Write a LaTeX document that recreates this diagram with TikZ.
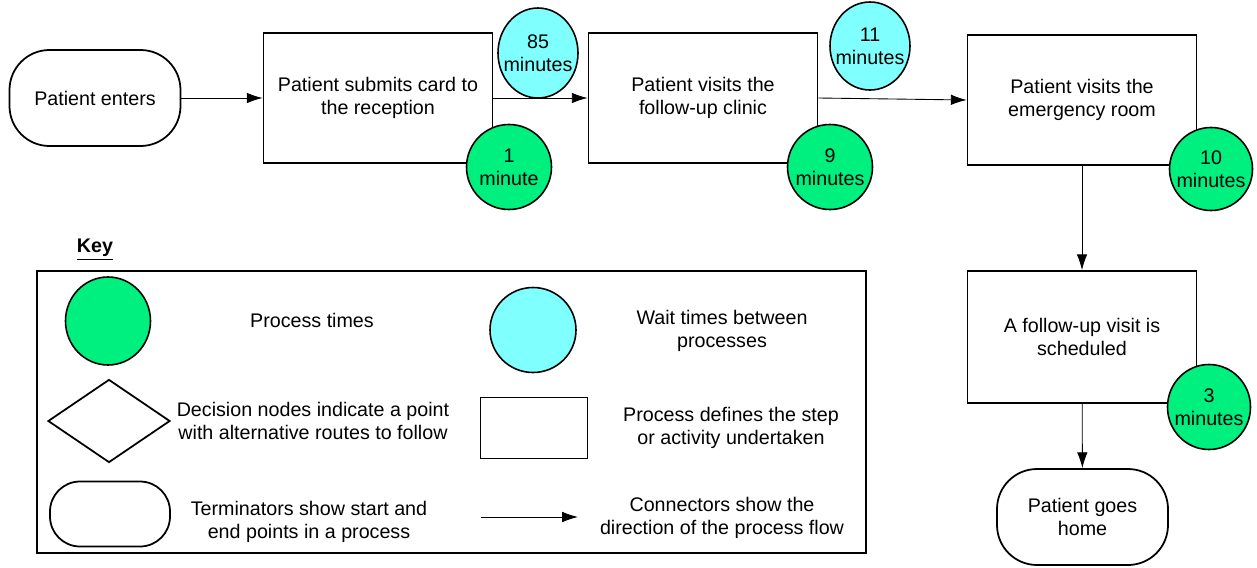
\documentclass[tikz,border=0pt]{standalone}
\usepackage{fontspec}
\setmainfont{Liberation Sans}
\usepackage{tikz}
\usetikzlibrary{positioning,calc,arrows.meta,shapes.geometric}
\definecolor{procgreen}{RGB}{0,240,128}
\definecolor{waitcyan}{RGB}{128,255,255}

\begin{document}
\begin{tikzpicture}[font=\fontsize{11.2}{13.2}\selectfont,
    terminator/.style={draw,line width=1pt,rounded corners=0.8cm,minimum width=3.42cm,minimum height=1.92cm,align=center},
    process/.style={draw,line width=1pt,minimum width=4.58cm,minimum height=2.6cm,align=center},
    proctime/.style={draw,ellipse,line width=0.9pt,fill=procgreen,minimum width=1.7cm,minimum height=1.7cm,inner sep=-6pt,align=center},
    waittime/.style={draw,ellipse,line width=0.9pt,fill=waitcyan,minimum width=1.6cm,minimum height=1.8cm,inner sep=-6pt,align=center},
    flow/.style={-{Latex[length=9pt,width=6pt]},line width=0.5pt}]
        \useasboundingbox (0,0) rectangle (25.14,-11.34);
        % main flow
        \node[terminator] (enter) at (1.9,-1.96) {Patient enters};
        \node[process] (submit) at (7.56,-1.96) {Patient submits card to\\the reception};
        \node[process] (clinic) at (14.06,-1.96) {Patient visits the\\follow-up clinic};
        \node[process] (emergency) at (21.64,-2.0) {Patient visits the\\emergency room};
        \node[process,minimum height=2.64cm] (schedule) at (21.64,-6.74) {A follow-up visit is\\scheduled};
        \node[terminator] (home) at (21.65,-10.34) {Patient goes\\home};
        \draw[flow] (enter) -- (submit);
        \draw[flow] (submit) -- (clinic);
        \draw[flow] (clinic.east) -- (emergency.west);
        \draw[flow] (emergency) -- (schedule);
        \draw[flow] (schedule) -- (home);
        % times
        \node[waittime] (wait1) at (10.76,-1.06) {85\\minutes};
        \node[waittime,minimum height=1.76cm] (wait2) at (17.4,-0.92) {11\\minutes};
        \node[proctime] (time1) at (10.18,-3.34) {1\\minute};
        \node[proctime] (time2) at (16.6,-3.34) {9\\minutes};
        \node[proctime,minimum width=1.66cm,minimum height=1.66cm] (time3) at (24.22,-3.38) {10\\minutes};
        \node[proctime,minimum width=1.66cm] (time4) at (24.18,-8.14) {3\\minutes};
        % key
        \node[font=\fontsize{11.2}{13.2}\selectfont\bfseries] (keytitle) at (1.9,-5.0) {\underline{Key}};
        \node[draw,line width=1pt,minimum width=16.58cm,minimum height=5.64cm] (keybox) at (9.03,-8.24) {};
        \node[proctime,minimum height=1.76cm] (keyproc) at (2.16,-6.42) {};
        \node[waittime,minimum width=1.72cm,minimum height=1.7cm] (keywait) at (10.66,-6.6) {};
        \node[draw,diamond,line width=1pt,minimum width=2.44cm,minimum height=1.66cm,inner sep=0pt] (keydecision) at (2.18,-8.42) {};
        \node[process,minimum width=2.14cm,minimum height=1.22cm] (keyprocess) at (10.68,-8.56) {};
        \node[terminator,minimum width=2.4cm,minimum height=1.3cm,rounded corners=0.6cm] (keyterm) at (2.2,-10.28) {};
        \coordinate (keyfrom) at (9.62,-10.34);
        \coordinate (keyto) at (11.56,-10.34);
        \draw[flow] (keyfrom) -- (keyto);
        \foreach \n/\position/\words in {1/{(6.24,-6.4)}/{Process times},
                2/{(14.44,-6.62)}/{Wait times between\\processes},
                3/{(6.26,-8.42)}/{Decision nodes indicate a point\\with alternative routes to follow},
                4/{(14.62,-8.56)}/{Process defines the step\\or activity undertaken},
                5/{(6.18,-10.44)}/{Terminators show start and\\end points in a process},
                6/{(14.44,-10.36)}/{Connectors show the\\direction of the process flow}} {
            \node[align=center] (keytext\n) at \position {\words};
        }
\end{tikzpicture}
\end{document}
